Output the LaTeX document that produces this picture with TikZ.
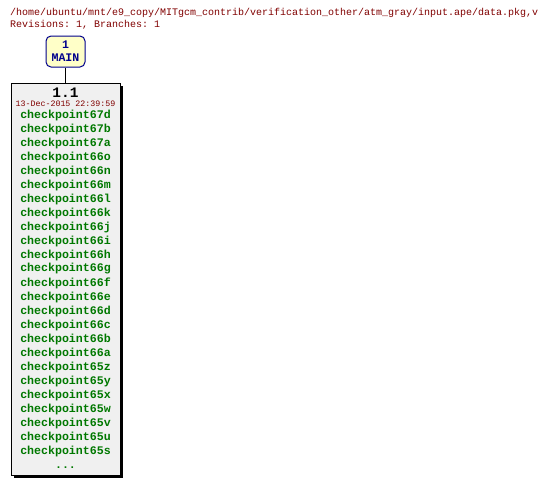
\documentclass[tikz,border=0pt]{standalone}
\usepackage{fontspec}
\setmonofont{Liberation Mono}
\definecolor{hdr}{RGB}{128,0,0}
\definecolor{grn}{RGB}{0,120,0}
\definecolor{navy}{RGB}{0,0,140}
\definecolor{yel}{RGB}{255,255,200}
\definecolor{boxbg}{RGB}{240,240,240}
\begin{document}
\begin{tikzpicture}[x=1pt,y=-1pt,
  hdrtext/.style={anchor=west,inner sep=0pt,text=hdr,font=\ttfamily\fontsize{10}{10}\selectfont},
  cp/.style={anchor=center,inner sep=0pt,text=grn,font=\ttfamily\bfseries\fontsize{11.6}{12}\selectfont},
  branch/.style={draw=navy,fill=yel,rounded corners=5pt,line width=1pt,minimum width=39pt,minimum height=31pt,inner sep=0pt,align=center,text=navy,font=\ttfamily\bfseries\fontsize{11.6}{13}\selectfont},
  revbox/.style={draw=black,fill=boxbg,line width=0.8pt,minimum width=109pt,minimum height=392pt,inner sep=0pt}]
\useasboundingbox (0,0) rectangle (548,485);
\node[hdrtext] (path) at (10,13) {/home/ubuntu/mnt/e9\_copy/MITgcm\_contrib/verification\_other/atm\_gray/input.ape/data.pkg,v};
\node[hdrtext] (revs) at (10,25) {Revisions: 1, Branches: 1};
\node[branch] (main) at (65.5,51.5) {1\\MAIN};
\fill[black] (13.5,85.5) rectangle (122.5,477.5);
\node[revbox] (rev) at (65.5,279) {};
\draw[line width=0.8pt] (main.south) -- (rev.north);
\node[inner sep=0pt,font=\ttfamily\bfseries\fontsize{14.5}{14}\selectfont] (title) at (65.5,93) {1.1};
\node[inner sep=0pt,text=hdr,font=\ttfamily\fontsize{8.3}{9}\selectfont] (date) at (65.5,103.5) {13-Dec-2015 22:39:59};
\foreach \t [count=\i from 0] in {checkpoint67d,checkpoint67b,checkpoint67a,checkpoint66o,checkpoint66n,checkpoint66m,checkpoint66l,checkpoint66k,checkpoint66j,checkpoint66i,checkpoint66h,checkpoint66g,checkpoint66f,checkpoint66e,checkpoint66d,checkpoint66c,checkpoint66b,checkpoint66a,checkpoint65z,checkpoint65y,checkpoint65x,checkpoint65w,checkpoint65v,checkpoint65u,checkpoint65s}
  \node[cp] (c\i) at (65.5,{115+14*\i}) {\t};
\node[cp,anchor=base] (dots) at (65.5,468) {...};
\end{tikzpicture}
\end{document}
